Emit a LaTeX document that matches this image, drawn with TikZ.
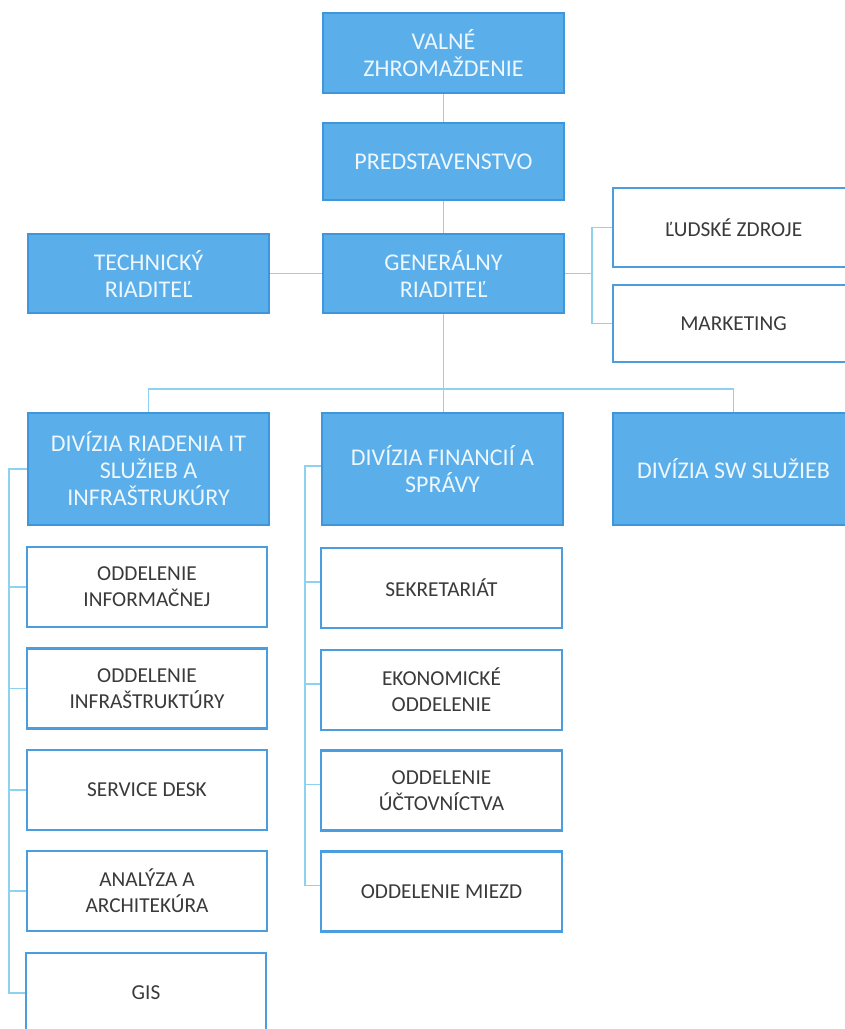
\documentclass[tikz,border=0pt]{standalone}
\usepackage{fontspec}
\setmainfont{Carlito}
\definecolor{bfill}{HTML}{5AAEE9}
\definecolor{bedge}{HTML}{3F96DA}
\definecolor{wedge}{HTML}{4A9EE0}
\definecolor{conn}{HTML}{8DD3F0}
\definecolor{btext}{HTML}{EEF7FD}
\definecolor{gtext}{HTML}{3A3A3A}
\tikzset{
  bluebox/.style={rectangle, draw=bedge, line width=2pt, fill=bfill, text=btext,
    align=center, inner sep=2pt, font=\fontsize{24}{27}\selectfont},
  whitebox/.style={rectangle, draw=wedge, line width=2.6pt, fill=white, text=gtext,
    align=center, inner sep=2pt, font=\fontsize{21.3}{26}\selectfont,
    minimum width=240pt, minimum height=80pt},
  link/.style={draw=conn, line width=1.4pt},
}
\begin{document}
\begin{tikzpicture}[x=1pt, y=-1pt]
\path[use as bounding box] (0,0) rectangle (845,1029);
\clip (0,0) rectangle (845,1029);
% top chain
\node[bluebox, minimum width=241pt, minimum height=80pt] (vz) at (443.5,53) {VALNÉ\\ZHROMAŽDENIE};
\node[bluebox, minimum width=241pt, minimum height=77pt] (pred) at (443.5,161.5) {PREDSTAVENSTVO};
\node[bluebox, minimum width=241pt, minimum height=79pt] (gr) at (443.5,273.5) {GENERÁLNY\\RIADITEĽ};
\node[bluebox, minimum width=241pt, minimum height=79pt] (tr) at (148.5,273.5) {TECHNICKÝ\\RIADITEĽ};
\node[whitebox, minimum width=241pt, minimum height=79pt] (lz) at (733.5,227.5) {ĽUDSKÉ ZDROJE};
\node[whitebox, minimum width=241pt, minimum height=77pt] (mk) at (733.5,323.5) {MARKETING};
% divisions
\node[bluebox, minimum width=241pt, minimum height=112pt] (d1) at (148.5,469) {DIVÍZIA RIADENIA IT\\SLUŽIEB A\\INFRAŠTRUKÚRY};
\node[bluebox, minimum width=241pt, minimum height=112pt] (d2) at (442.5,469) {DIVÍZIA FINANCIÍ A\\SPRÁVY};
\node[bluebox, minimum width=241pt, minimum height=112pt] (d3) at (733.5,469) {DIVÍZIA SW SLUŽIEB};
% left column
\node[whitebox] (l1) at (147,587) {ODDELENIE\\INFORMAČNEJ};
\node[whitebox] (l2) at (147,688.5) {ODDELENIE\\INFRAŠTRUKTÚRY};
\node[whitebox] (l3) at (147,790) {SERVICE DESK};
\node[whitebox] (l4) at (147,891) {ANALÝZA A\\ARCHITEKÚRA};
\node[whitebox] (l5) at (146,993) {GIS};
% middle column
\node[whitebox, minimum width=241pt] (m1) at (441.5,588) {SEKRETARIÁT};
\node[whitebox, minimum width=241pt] (m2) at (441.5,690) {EKONOMICKÉ\\ODDELENIE};
\node[whitebox, minimum width=241pt] (m3) at (441.5,790.5) {ODDELENIE\\ÚČTOVNÍCTVA};
\node[whitebox, minimum width=241pt] (m4) at (441.5,891.5) {ODDELENIE MIEZD};
% connectors
\coordinate (rj) at (592,273.5);
\coordinate (bus) at (443.5,389);
\draw[link] (vz.south) -- (pred.north);
\draw[link] (pred.south) -- (gr.north);
\draw[link] (tr.east) -- (gr.west);
\draw[link] (gr.east) -- (rj);
\draw[link] (lz.west) -| (rj) |- (mk.west);
\draw[link] (gr.south) -- (gr.south |- d2.north);
\draw[link] (d1.north) |- (bus) -| (d3.north);
\foreach \n in {l1,l2,l3,l4,l5}
  \draw[link] (d1.west) -- ++(-18,0) |- (\n.west);
\draw[link] ([yshift=3pt]d2.west) -- ++(-16,0) |- ([yshift=6pt]m4.west);
\foreach \n in {m1,m2,m3}
  \draw[link] ([yshift=3pt]d2.west) -- ++(-16,0) |- ([yshift=6pt]\n.west);
\end{tikzpicture}
\end{document}
